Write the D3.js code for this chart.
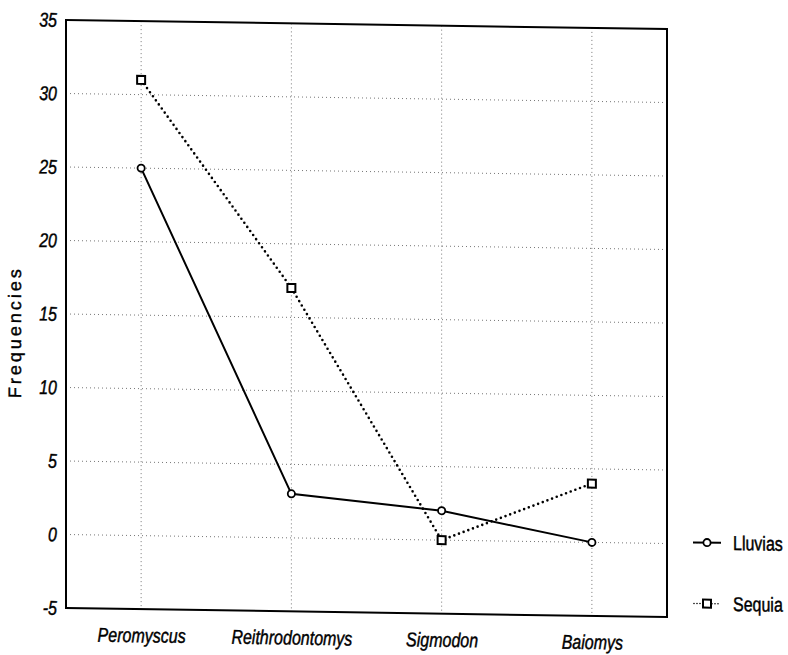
<!DOCTYPE html>
<html lang="en">
<head>
    <meta charset="UTF-8">
    <title>Frequencies - Lluvias / Sequia</title>
    <script src="https://cdnjs.cloudflare.com/ajax/libs/d3/7.8.5/d3.min.js"></script>
    <style>
        body { margin: 0; background: #fff; }
        text { font-family: "Liberation Sans", Arial, sans-serif; }
    </style>
</head>
<body>
    <div id="chart"></div>
    <script>
        const categories = ["Peromyscus", "Reithrodontomys", "Sigmodon", "Baiomys"];
        const lluvias = [25, 3, 2, 0];
        const sequia = [31, 17, 0, 4];
        const yTicks = [-5, 0, 5, 10, 15, 20, 25, 30, 35];
        const seriesNames = ["Lluvias", "Sequia"];

        const W = 788, H = 655;
        const plot = { left: 66, right: 667, top: 20, bottom: 608 };
        const squeeze = 0.8; // no narrow font installed, so condense by hand

        const svg = d3.select("#chart").append("svg")
            .attr("width", W)
            .attr("height", H);

        // scanned original is slightly sheared: horizontal lines drop to the right
        const g = svg.append("g")
            .attr("transform", `translate(${plot.left},0) skewY(0.86) translate(${-plot.left},0)`);

        function narrow(sel) {
            sel.each(function() {
                const t = d3.select(this);
                const x0 = +t.attr("x") || 0;
                t.attr("x", x0 / squeeze).attr("transform", `scale(${squeeze},1)`);
            })
            .attr("fill", "#000").attr("stroke", "#000").attr("stroke-width", 0.45);
        }

        const x = d3.scalePoint().domain(categories).range([plot.left, plot.right]).padding(0.5);
        const y = d3.scaleLinear().domain([-5, 35]).range([plot.bottom, plot.top]);

        // grid
        g.append("g").selectAll("line").data(yTicks.slice(1, -1)).join("line")
            .attr("x1", plot.left).attr("x2", plot.right)
            .attr("y1", d => y(d)).attr("y2", d => y(d))
            .attr("stroke", "#555").attr("stroke-width", 0.8).attr("stroke-dasharray", "1,3");
        g.append("g").selectAll("line").data(categories).join("line")
            .attr("x1", d => x(d)).attr("x2", d => x(d))
            .attr("y1", plot.top).attr("y2", plot.bottom)
            .attr("stroke", "#555").attr("stroke-width", 0.8).attr("stroke-dasharray", "1,3");

        // axes
        const yAxis = g.append("g")
            .attr("transform", `translate(${plot.left},0)`)
            .call(d3.axisLeft(y).tickValues(yTicks).tickFormat(d => String(d)).tickSize(0).tickPadding(9));
        yAxis.select(".domain").remove();
        yAxis.selectAll("text")
            .attr("font-size", 20).attr("font-style", "italic")
            .call(narrow);

        const xAxis = g.append("g")
            .attr("transform", `translate(0,${plot.bottom})`)
            .call(d3.axisBottom(x).tickSize(0).tickPadding(19));
        xAxis.select(".domain").remove();
        xAxis.selectAll("text")
            .attr("font-size", 20).attr("font-style", "italic")
            .call(narrow);

        g.append("rect")
            .attr("x", plot.left).attr("y", plot.top)
            .attr("width", plot.right - plot.left).attr("height", plot.bottom - plot.top)
            .attr("fill", "none").attr("stroke", "#000").attr("stroke-width", 2);

        // y title
        g.append("text")
            .attr("transform", `translate(21,333) rotate(-90)`)
            .attr("text-anchor", "middle")
            .attr("font-size", 18)
            .attr("letter-spacing", 3)
            .attr("stroke", "#000").attr("stroke-width", 0.4)
            .text("Frequencies");

        // series
        const line = d3.line().x((d, i) => x(categories[i])).y(d => y(d));

        g.append("path").datum(sequia)
            .attr("d", line).attr("fill", "none")
            .attr("stroke", "#000").attr("stroke-width", 2.6)
            .attr("stroke-linecap", "round").attr("stroke-dasharray", "0,5");

        g.append("path").datum(lluvias)
            .attr("d", line).attr("fill", "none")
            .attr("stroke", "#000").attr("stroke-width", 2);

        g.append("g").selectAll("rect").data(sequia).join("rect")
            .attr("x", (d, i) => x(categories[i]) - 4).attr("y", d => y(d) - 4)
            .attr("width", 8).attr("height", 8)
            .attr("fill", "#fff").attr("stroke", "#000").attr("stroke-width", 2);

        g.append("g").selectAll("circle").data(lluvias).join("circle")
            .attr("cx", (d, i) => x(categories[i])).attr("cy", d => y(d))
            .attr("r", 3.6)
            .attr("fill", "#fff").attr("stroke", "#000").attr("stroke-width", 1.8);

        // legend
        const legend = g.append("g").attr("class", "legend");
        const legY = [533, 594];
        legend.selectAll("text").data(seriesNames).join("text")
            .attr("x", 733).attr("y", (d, i) => legY[i] + 7)
            .attr("font-size", 20)
            .text(d => d)
            .call(narrow);

        legend.append("line")
            .attr("x1", 693).attr("x2", 721).attr("y1", legY[0]).attr("y2", legY[0])
            .attr("stroke", "#000").attr("stroke-width", 2);
        legend.append("circle")
            .attr("cx", 707).attr("cy", legY[0]).attr("r", 3.6)
            .attr("fill", "#fff").attr("stroke", "#000").attr("stroke-width", 1.8);

        legend.append("line")
            .attr("x1", 694).attr("x2", 721).attr("y1", legY[1]).attr("y2", legY[1])
            .attr("stroke", "#000").attr("stroke-width", 1.6)
            .attr("stroke-linecap", "round").attr("stroke-dasharray", "0,3");
        legend.append("rect")
            .attr("x", 703).attr("y", legY[1] - 4).attr("width", 8).attr("height", 8)
            .attr("fill", "#fff").attr("stroke", "#000").attr("stroke-width", 2);
    </script>
</body>
</html>
